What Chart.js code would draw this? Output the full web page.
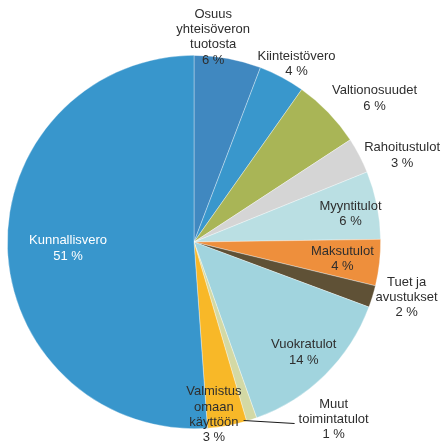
<!DOCTYPE html>
<html lang="fi">
<head>
    <meta charset="UTF-8">
    <title>Tulojen jakauma</title>
    <script src="https://cdn.jsdelivr.net/npm/chart.js"></script>
    <style>
        body {
            margin: 0;
            padding: 0;
            background: #ffffff;
        }
        .chart-box {
            width: 444px;
            height: 445px;
        }
    </style>
</head>
<body>
    <div class="chart-box">
        <canvas id="pieChart" width="444" height="445"></canvas>
    </div>

    <script>
        // Data (share of income, %)
        const categories = [
            ["Osuus", "yhteisöveron", "tuotosta"],
            ["Kiinteistövero"],
            ["Valtionosuudet"],
            ["Rahoitustulot"],
            ["Myyntitulot"],
            ["Maksutulot"],
            ["Tuet ja", "avustukset"],
            ["Vuokratulot"],
            ["Muut", "toimintatulot"],
            ["Valmistus", "omaan", "käyttöön"],
            ["Kunnallisvero"]
        ];
        const shares = [5.8, 4.0, 6.0, 3.1, 5.9, 4.0, 1.9, 13.9, 0.9, 3.4, 51.2];
        const percentLabels = ["6 %", "4 %", "6 %", "3 %", "6 %", "4 %", "2 %", "14 %", "1 %", "3 %", "51 %"];

        const colors = [
            "#4088c0", "#3997cc", "#a9b556", "#d5d5d5", "#badfe3", "#ee8f3c",
            "#5f5136", "#a1d4de", "#d3d9a5", "#f8b828", "#3896cc"
        ];

        // label placement: radius factor along the slice mid angle, plus small nudges
        const labelPlace = [
            { r: 1.10, dx: -18, dy: -3 },
            { r: 1.10, dx: 6, dy: 3 },
            { r: 1.24, dx: 14, dy: 17 },
            { r: 1.21, dx: 8, dy: 18 },
            { r: 0.85, dx: 1, dy: 3 },
            { r: 0.80, dx: 0, dy: 0 },
            { r: 1.18, dx: 2, dy: -9 },
            { r: 0.83, dx: 1, dy: 0 },
            { r: 1.00, dx: 82, dy: 0, leader: true },
            { r: 0.93, dx: -11, dy: 2 },
            { r: 0.67, dx: -1, dy: 2 }
        ];

        const sliceLabels = {
            id: "sliceLabels",
            afterDatasetsDraw(chart) {
                const ctx = chart.ctx;
                const arcs = chart.getDatasetMeta(0).data;
                ctx.save();
                ctx.font = "13px 'Liberation Sans', Arial, sans-serif";
                ctx.textAlign = "center";
                ctx.textBaseline = "middle";
                const lineH = 15.3;
                arcs.forEach((arc, i) => {
                    const p = labelPlace[i];
                    const mid = (arc.startAngle + arc.endAngle) / 2;
                    const ax = arc.x + Math.cos(mid) * arc.outerRadius * p.r;
                    const ay = arc.y + Math.sin(mid) * arc.outerRadius * p.r;
                    const lx = ax + p.dx;
                    const ly = ay + p.dy;
                    if (p.leader) {
                        ctx.strokeStyle = "#1a1a1a";
                        ctx.lineWidth = 1.2;
                        ctx.beginPath();
                        ctx.moveTo(ax - 8, ay + 1);
                        ctx.lineTo(ax + 43, ay + 4);
                        ctx.stroke();
                    }
                    const lines = categories[i].concat([percentLabels[i]]);
                    const top = ly - (lines.length - 1) * lineH / 2;
                    ctx.fillStyle = i === categories.length - 1 ? "#ffffff" : "#2e2e2e";
                    lines.forEach((t, k) => ctx.fillText(t, lx, top + k * lineH));
                });
                ctx.restore();
            }
        };

        new Chart(document.getElementById("pieChart").getContext("2d"), {
            type: "pie",
            data: {
                labels: categories.map(c => c.join(" ")),
                datasets: [{
                    data: shares,
                    backgroundColor: colors,
                    borderColor: "rgba(255,255,255,0.45)",
                    borderWidth: 0.75
                }]
            },
            options: {
                responsive: false,
                animation: false,
                layout: {
                    padding: { left: 7, top: 55, right: 63, bottom: 16 }
                },
                plugins: {
                    legend: { display: false },
                    tooltip: { enabled: false }
                }
            },
            plugins: [sliceLabels]
        });
    </script>
</body>
</html>
